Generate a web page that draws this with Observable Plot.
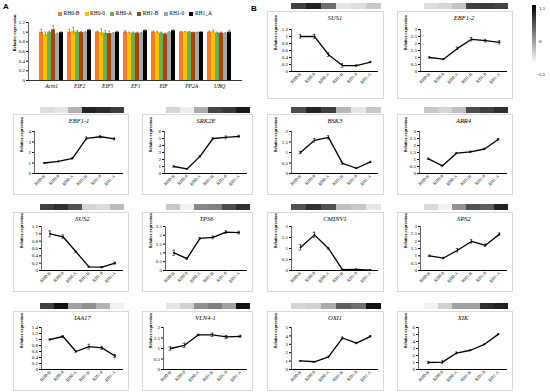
<!DOCTYPE html>
<html><head><meta charset="utf-8">
<script src="https://cdn.jsdelivr.net/npm/d3@7"></script>
<script src="https://cdn.jsdelivr.net/npm/@observablehq/plot@0.6"></script>
<style>
html,body{margin:0;padding:0;background:#fff}
body{width:550px;height:392px;position:relative;overflow:hidden;font-family:"Liberation Serif",serif}
.box{position:absolute;border:1px solid #d9d9d9;box-sizing:border-box;background:#fff}
.box svg,.strip svg,#panelA svg{display:block;overflow:visible}
#panelA [aria-label="x-axis tick label"] text{font-style:italic}
.leg{position:absolute;top:10px;left:58px;display:flex;font-size:5.5px;line-height:7px}
.leg span{display:flex;align-items:center;margin-right:5.2px}
.leg i{display:inline-block;width:4px;height:4px;margin-right:1.5px}
.lab{position:absolute;font-family:"Liberation Sans",sans-serif;font-weight:bold;font-size:8px}
.cb{position:absolute;font-size:5px}
</style></head><body>
<div id="root"></div>
<script>
// ---------- Panel A data (reference genes) ----------
const legendLabels = ["RH0-B","RH0-0","RH0-A","RH1-B","RH1-0","RH1_A"];
const barColors = ["#ED7D31","#FFC000","#70AD47","#9E480E","#A5A5A5","#000000"];
const refGenes = ["Actn1","EIF2","EIF5","EF1","EIF","PP2A","UBQ"];
const refActn1 = [1.00,0.95,0.99,1.05,0.96,0.99];
const refEIF2  = [1.00,1.02,1.00,0.99,0.99,1.04];
const refEIF5  = [1.00,0.99,0.98,0.97,0.97,1.00];
const refEF1   = [1.00,0.98,0.98,0.98,0.98,1.03];
const refEIF   = [1.00,0.99,0.98,0.96,0.99,1.03];
const refPP2A  = [1.00,1.00,1.00,0.99,0.99,1.00];
const refUBQ   = [1.00,1.01,0.98,0.98,0.97,1.00];
const refErrActn1 = [0.06,0.05,0.03,0.08,0.02,0.02];
const refErrEIF2  = [0.06,0.08,0.03,0.02,0.02,0.02];
const refErrEIF5  = [0.02,0.08,0.05,0.05,0.02,0.02];
const refErrEF1   = [0.03,0.02,0.02,0.02,0.02,0.02];
const refErrEIF   = [0.02,0.02,0.02,0.02,0.02,0.02];
const refErrPP2A  = [0.01,0.01,0.01,0.01,0.01,0.01];
const refErrUBQ   = [0.02,0.03,0.02,0.02,0.02,0.04];
const refTicks = [0,0.2,0.4,0.6,0.8,1,1.2];

// ---------- Panel B data ----------
const samples = ["RH0-B","RH0-0","RH0-A","RH1-B","RH1-0","RH1-A"];
const genes = ["SUS1","EBF1-2","EBF1-1","SRK2E","BSK3","ARR4","SUS2","TPS6","CMINV1","SPS2","IAA17","VLN4-1","OXI1","XIK"];
const valSUS1   = [1.00,1.00,0.48,0.17,0.17,0.27];
const valEBF12  = [1.00,0.88,1.65,2.30,2.20,2.08];
const valEBF11  = [1.00,1.15,1.45,3.35,3.50,3.30];
const valSRK2E  = [1.00,0.65,2.45,5.00,5.15,5.30];
const valBSK3   = [1.00,1.58,1.72,0.48,0.25,0.55];
const valARR4   = [1.05,0.55,1.45,1.55,1.75,2.45];
const valSUS2   = [1.00,0.92,0.51,0.10,0.09,0.20];
const valTPS6   = [1.00,0.68,1.82,1.88,2.18,2.15];
const valCMINV1 = [1.05,1.62,1.00,0.04,0.05,0.02];
const valSPS2   = [1.00,0.85,1.38,1.98,1.72,2.48];
const valIAA17  = [1.00,1.10,0.60,0.76,0.72,0.45];
const valVLN41  = [1.00,1.15,1.65,1.65,1.55,1.58];
const valOXI1   = [1.02,0.92,1.50,3.75,3.15,3.95];
const valXIK    = [1.00,1.05,2.35,2.75,3.60,5.05];

const errSUS1   = [0.05,0.06,0.05,0.05,0.02,0.02];
const errEBF12  = [0.05,0.03,0.08,0.12,0.10,0.12];
const errEBF11  = [0.05,0.05,0.08,0.12,0.10,0.10];
const errSRK2E  = [0.10,0.05,0.10,0.10,0.20,0.15];
const errBSK3   = [0.05,0.08,0.08,0.05,0.02,0.03];
const errARR4   = [0.05,0.04,0.04,0.05,0.05,0.05];
const errSUS2   = [0.08,0.05,0.02,0.02,0.02,0.03];
const errTPS6   = [0.15,0.05,0.05,0.08,0.08,0.08];
const errCMINV1 = [0.12,0.12,0.03,0.01,0.02,0.01];
const errSPS2   = [0.05,0.05,0.12,0.12,0.08,0.08];
const errIAA17  = [0.02,0.03,0.03,0.08,0.05,0.05];
const errVLN41  = [0.08,0.10,0.03,0.08,0.07,0.05];
const errOXI1   = [0.05,0.05,0.08,0.12,0.08,0.10];
const errXIK    = [0.15,0.20,0.15,0.05,0.05,0.05];

// heatmap strip values (colour key -1.5 .. 1.5)
const heatSUS1   = [0.75,1.10,0.20,-1.20,-1.10,-0.85];
const heatEBF12  = [-1.10,-1.00,-0.80,0.75,0.80,0.70];
const heatEBF11  = [-1.10,-1.20,-0.60,1.10,1.00,0.80];
const heatSRK2E  = [-1.00,-1.30,-0.50,0.70,0.85,1.20];
const heatBSK3   = [0.60,1.10,0.75,-0.65,-1.20,-0.85];
const heatARR4   = [-0.85,-1.00,-0.75,0.60,0.75,0.95];
const heatSUS2   = [0.75,0.95,0.55,-1.00,-1.10,-0.70];
const heatTPS6   = [-0.85,-1.35,-0.10,0.00,0.60,0.95];
const heatCMINV1 = [0.55,0.95,0.55,-0.75,-0.85,-1.20];
const heatSPS2   = [-1.05,-1.35,-0.20,0.55,0.40,1.10];
const heatIAA17  = [0.75,1.30,-0.40,-0.20,-0.60,-1.35];
const heatVLN41  = [-1.20,-0.95,-0.20,0.00,-0.40,1.30];
const heatOXI1   = [-1.00,-0.95,-0.50,0.40,0.20,1.30];
const heatXIK    = [-1.35,-0.95,-0.40,-0.40,0.95,1.10];

const yMaxes = [1.2,3,4,6,2,3,1.2,2.5,2,3,1.4,2,5,6];
const ySteps = [0.2,0.5,1,1,0.5,0.5,0.2,0.5,0.5,0.5,0.2,0.5,1,1];
const colorKeyTicks = ["1.5","0","-1.5"];

const allVals = [valSUS1,valEBF12,valEBF11,valSRK2E,valBSK3,valARR4,valSUS2,valTPS6,valCMINV1,valSPS2,valIAA17,valVLN41,valOXI1,valXIK];
const allErrs = [errSUS1,errEBF12,errEBF11,errSRK2E,errBSK3,errARR4,errSUS2,errTPS6,errCMINV1,errSPS2,errIAA17,errVLN41,errOXI1,errXIK];
const allHeat = [heatSUS1,heatEBF12,heatEBF11,heatSRK2E,heatBSK3,heatARR4,heatSUS2,heatTPS6,heatCMINV1,heatSPS2,heatIAA17,heatVLN41,heatOXI1,heatXIK];
const refVals = [refActn1,refEIF2,refEIF5,refEF1,refEIF,refPP2A,refUBQ];
const refErrs = [refErrActn1,refErrEIF2,refErrEIF5,refErrEF1,refErrEIF,refErrPP2A,refErrUBQ];

// ---------- layout ----------
const body = document.body;
function el(tag, cls, css, parent) {
  const e = document.createElement(tag);
  if (cls) e.className = cls;
  if (css) Object.assign(e.style, css);
  (parent || body).appendChild(e);
  return e;
}
const FONT = "Liberation Serif, serif";

el("div","lab",{left:"3px",top:"2px"}).textContent = "A";
el("div","lab",{left:"251px",top:"4px"}).textContent = "B";

// Legend
const leg = el("div","leg");
legendLabels.forEach((l,i)=>{
  const s = el("span",null,null,leg);
  el("i",null,{background:barColors[i]},s);
  s.appendChild(document.createTextNode(l));
});

// Panel A grouped bar chart on a composite band scale
const refData = [];
refGenes.forEach((g,gi)=>legendLabels.forEach((s,si)=>refData.push({k:g+"|"+s,g,s,v:refVals[gi][si],e:refErrs[gi][si]})));
const xKeys = [];
refGenes.forEach((g,gi)=>{ legendLabels.forEach(s=>xKeys.push(g+"|"+s)); if (gi < refGenes.length-1) xKeys.push(g+"|gap"); });
const aW = 245, aML = 28, aMR = 3;
const bwA = (aW - aML - aMR) / (xKeys.length + 1);
const pA = Plot.plot({
  width: aW, height: 76,
  marginTop: 4, marginBottom: 14, marginLeft: aML, marginRight: aMR,
  style: {fontFamily: FONT, fontSize: "5px", background: "transparent"},
  x: {type:"band", domain: xKeys, paddingInner: 0, paddingOuter: 0.5, label: null},
  y: {domain: [0,1.2], label: null},
  color: {domain: legendLabels, range: barColors},
  marks: [
    Plot.axisY({ticks: refTicks, tickSize: 2, tickPadding: 1.5, tickFormat: d=>String(d), label: null}),
    Plot.axisX({ticks: refGenes.map(g=>g+"|RH0-A"), tickFormat: d=>d.split("|")[0], dx: bwA/2, tickSize: 0, tickPadding: 4, fontSize: 5.5, label: null}),
    Plot.barY(refData, {x:"k", y:"v", fill:"s"}),
    Plot.ruleX(refData, {x:"k", y1:d=>d.v-d.e, y2:d=>d.v+d.e, stroke:"#555", strokeWidth:0.5}),
    Plot.tickY(refData, {x:"k", y:d=>d.v+d.e, stroke:"#555", strokeWidth:0.5, insetLeft:0.9, insetRight:0.9}),
    Plot.ruleY([0], {stroke:"#000", strokeWidth:0.8}),
    Plot.frame({anchor:"left", stroke:"#000", strokeWidth:0.6}),
    Plot.text(["Relative expression"], {text:d=>d, frameAnchor:"left", rotate:-90, dx:-14, fontSize:4.5, fontWeight:"bold"})
  ]
});
const aWrap = el("div",null,{position:"absolute",left:"0px",top:"18px"});
aWrap.id = "panelA";
aWrap.appendChild(pA);

// Panel B grid
const cols = [{x:13,w:116},{x:142,w:111},{x:267,w:117},{x:397,w:116}];
const rows = [{top:11,h:88,strip:3,zero:59,mt:17},{top:114,h:81,strip:107,zero:58,mt:16},{top:212,h:80,strip:204,zero:57,mt:13},{top:311,h:80,strip:303,zero:57,mt:15}];
const cellOf = [[0,2],[0,3],[1,0],[1,1],[1,2],[1,3],[2,0],[2,1],[2,2],[2,3],[3,0],[3,1],[3,2],[3,3]];
const mlOf = [23,22,20,21,23,21,27,22,23,22,27,20,23,20];

genes.forEach((g,i)=>{
  const [r,c] = cellOf[i];
  const R = rows[r], C = cols[c];
  const stripW = C.w - 27;
  const heatData = samples.map((s,k)=>({s, v: allHeat[i][k]}));
  const strip = Plot.plot({
    width: stripW, height: 6, margin: 0,
    x: {domain: samples, axis: null, padding: 0},
    y: {axis: null},
    color: {type:"linear", domain:[-1.5,1.5], range:["#ffffff","#000000"]},
    style: {background:"transparent"},
    marks: [Plot.cell(heatData, {x:"s", fill:"v"})]
  });
  const sw = el("div","strip",{position:"absolute",left:(C.x+24)+"px",top:R.strip+"px"});
  sw.appendChild(strip);

  const box = el("div","box",{left:C.x+"px",top:R.top+"px",width:C.w+"px",height:R.h+"px"});
  const yMax = yMaxes[i], step = ySteps[i];
  const ticks = d3.range(0, yMax + step/2, step).map(v=>+v.toFixed(2));
  const data = samples.map((s,k)=>({s, v: allVals[i][k], e: allErrs[i][k]}));
  const ml = mlOf[i], mr = 5, W = C.w - 2;
  const bw = (W - ml - mr) / samples.length;
  const capInset = bw/2 - 1.5;
  const p = Plot.plot({
    width: W, height: R.h - 2,
    marginTop: R.mt, marginBottom: R.h - 2 - R.zero, marginLeft: ml, marginRight: mr,
    style: {fontFamily: FONT, fontSize: "5px", background: "transparent"},
    x: {type:"band", domain: samples, padding: 0, label: null},
    y: {domain: [0, yMax], label: null},
    marks: [
      Plot.axisY({ticks, tickSize: 2, tickPadding: 1.5, tickFormat: d=>String(d), label: null}),
      Plot.axisX({tickRotate: -45, tickSize: 0, tickPadding: 2, fontSize: 4.5, label: null}),
      Plot.frame({anchor:"left", stroke:"#000", strokeWidth:0.6}),
      Plot.ruleY([0], {stroke:"#000", strokeWidth:1.1}),
      Plot.ruleX(data, {x:"s", y1:d=>d.v-d.e, y2:d=>d.v+d.e, stroke:"#000", strokeWidth:0.6}),
      Plot.tickY(data, {x:"s", y:d=>d.v+d.e, stroke:"#000", strokeWidth:0.6, insetLeft:capInset, insetRight:capInset}),
      Plot.tickY(data, {x:"s", y:d=>d.v-d.e, stroke:"#000", strokeWidth:0.6, insetLeft:capInset, insetRight:capInset}),
      Plot.lineY(data, {x:"s", y:"v", stroke:"#000", strokeWidth:1.3}),
      Plot.dot(data, {x:"s", y:"v", r:0.8, fill:"#000"}),
      Plot.text([g], {text:d=>d, frameAnchor:"top", dy: 3 - R.mt, fontSize: 6.5, fontStyle:"italic"}),
      Plot.text(["Relative expression"], {text:d=>d, frameAnchor:"left", rotate:-90, dx: 7 - ml, fontSize: 4.3, fontWeight:"bold"})
    ]
  });
  box.appendChild(p);
});

// Colour key
el("div",null,{position:"absolute",left:"532px",top:"5px",width:"4px",height:"58px",background:"linear-gradient(to bottom,#000,#fff)"});
const cbY = [6,39,72];
colorKeyTicks.forEach((t,k)=>{
  el("div","cb",{left:(t.startsWith("-")?537:539)+"px",top:cbY[k]+"px"}).textContent = t;
});
</script>
</body></html>
